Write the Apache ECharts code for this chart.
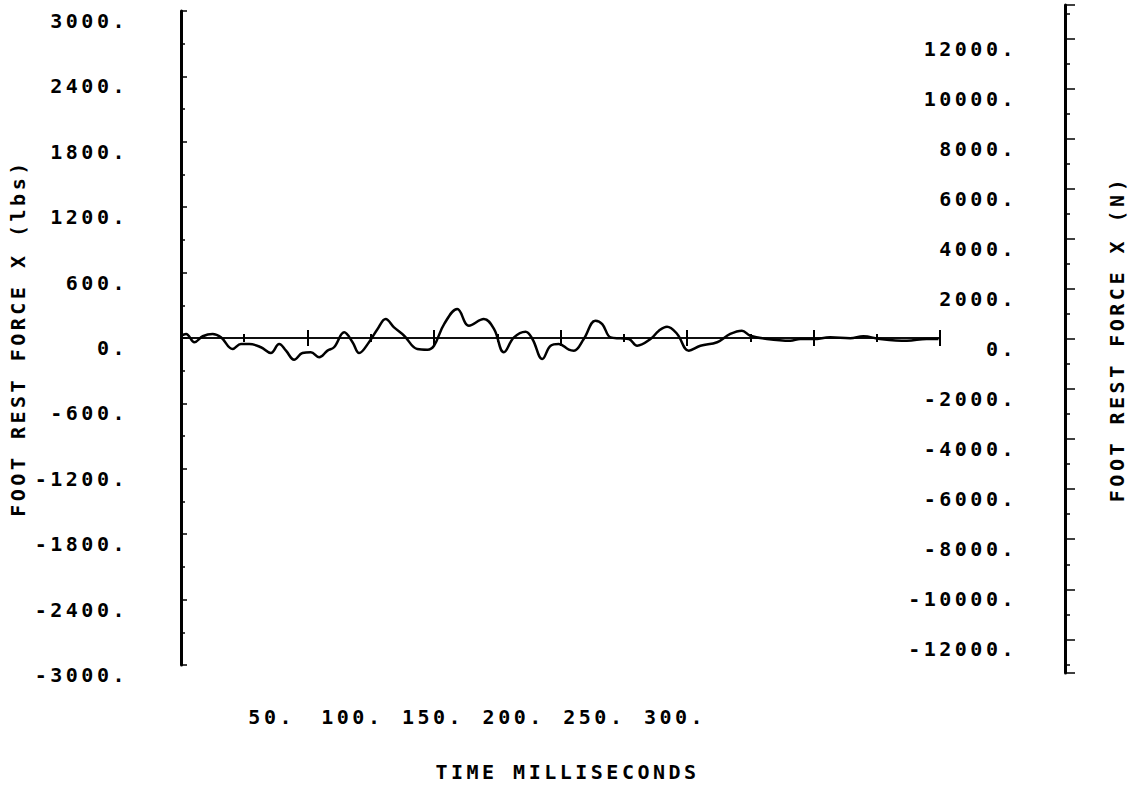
<!DOCTYPE html>
<html>
<head>
<meta charset="utf-8">
<script src="https://cdn.jsdelivr.net/npm/echarts@6.0.0/dist/echarts.min.js"></script>
<style>
html, body { margin: 0; padding: 0; background: #fff; }
#chart { width: 1135px; height: 785px; }
/* the old plotter font is wide, so spread the letters */
#chart svg text { letter-spacing: 3.5px; }
</style>
</head>
<body>
<div id="chart"></div>
<script>
// time (ms) and foot rest force X (lbs)
var timeMs = [0, 2, 5.3, 8.6, 12.5, 15.8, 20.4, 23.7, 27, 31.6, 35.5, 38.8, 41.5, 44.7, 48,
  51.3, 54.6, 57.9, 60.5, 64.5, 67.8, 70.4, 74.3, 77.7, 80.9, 84.2, 88.2, 93.4, 97.4, 100,
  104, 109.2, 113.8, 119.7, 123.7, 127.6, 131.6, 136.2, 138.9, 142.8, 146.1, 149.3, 153.3, 155.3, 159.2,
  163.8, 166.5, 169.8, 173.7, 177, 180.3, 185.6, 188.9, 192.1, 196.1, 200.7, 205.3, 211.9, 217.1, 221.7,
  225, 231.6, 240.8, 244.8, 250, 256.6, 264.5, 269.7, 276.3, 286.9, 294.7, 299.4];
var forceLbs = [21, 37, -39, 16, 37, 6, -101, -55, -55, -85, -138, -55, -116, -199, -138,
  -131, -177, -116, -85, 52, -39, -138, -39, 83, 174, 98, 21, -101, -107, -71,
  128, 266, 113, 174, 83, -131, 6, 58, -9, -193, -71, -55, -107, -116, -9,
  159, 128, 6, -3, -9, -71, -9, 67, 104, 37, -116, -71, -39, 37, 67,
  21, -9, -25, -9, -9, 6, -3, 16, -9, -25, -9, -9];

var xTickLabels = [50, 100, 150, 200, 250, 300];
var lbsRange = [-3000, 3000];
var lbsStep = 600;
var newtonStep = 2000;
var lbsToN = 4.448;

var font = 'DejaVu Sans Mono';
var txt = { fontFamily: font, fontWeight: 'bold', fontSize: 20, color: '#000' };

var data = timeMs.map(function (t, i) { return [t, forceLbs[i]]; });

var chart = echarts.init(document.getElementById('chart'), null, { renderer: 'svg' });
var option = {
  backgroundColor: '#fff',
  animation: false,
  title: {
    text: 'TIME MILLISECONDS',
    left: 'center',
    top: 762,
    padding: 0,
    textStyle: { fontFamily: font, fontWeight: 'bold', fontSize: 20, color: '#000' }
  },
  grid: [
    { left: 180, right: 195, top: 11, bottom: 120 },
    { left: 180, right: 65, top: 5, bottom: 112 },
    { left: 191, right: 460, top: 11, bottom: 120 }
  ],
  xAxis: [
    {
      gridIndex: 0, type: 'value', position: 'bottom', min: 0, max: 300, interval: 50,
      axisLine: { onZero: true, onZeroAxisIndex: 0, lineStyle: { color: '#000', width: 1.5 } },
      axisTick: { length: 8, lineStyle: { color: '#000', width: 2 } },
      minorTick: { show: true, splitNumber: 2, length: 4, lineStyle: { color: '#000', width: 2 } },
      axisLabel: { show: false }, splitLine: { show: false }
    },
    {
      gridIndex: 0, type: 'value', position: 'top', min: 0, max: 300, interval: 50,
      axisLine: { onZero: true, onZeroAxisIndex: 0, lineStyle: { color: '#000', width: 1.5 } },
      axisTick: { length: 8, lineStyle: { color: '#000', width: 2 } },
      minorTick: { show: true, splitNumber: 2, length: 4, lineStyle: { color: '#000', width: 2 } },
      axisLabel: { show: false }, splitLine: { show: false }
    },
    { gridIndex: 1, type: 'value', min: 0, max: 1, show: false },
    {
      gridIndex: 2, type: 'value', position: 'bottom', min: 0, max: 300, interval: 50,
      axisLine: { show: false, onZero: false }, axisTick: { show: false }, splitLine: { show: false },
      axisLabel: Object.assign({
        showMinLabel: false, margin: 42,
        formatter: function (v) { return xTickLabels.indexOf(v) >= 0 ? v + '.' : ''; }
      }, txt)
    }
  ],
  yAxis: [
    {
      gridIndex: 0, type: 'value', position: 'left', min: lbsRange[0], max: lbsRange[1], interval: lbsStep,
      name: 'FOOT REST FORCE X (lbs)', nameLocation: 'middle', nameGap: 153,
      nameTextStyle: txt,
      axisLine: { show: true, onZero: false, lineStyle: { color: '#000', width: 3 } },
      axisTick: { show: true, inside: true, length: 6, lineStyle: { color: '#000', width: 1.5 } },
      minorTick: { show: true, splitNumber: 2, length: 4, lineStyle: { color: '#000', width: 1.5 } },
      axisLabel: Object.assign({ margin: 53, verticalAlign: 'top', formatter: function (v) { return v + '.'; } }, txt),
      splitLine: { show: false }
    },
    {
      gridIndex: 1, type: 'value', position: 'right',
      min: lbsRange[0] * lbsToN, max: lbsRange[1] * lbsToN,
      minInterval: newtonStep, maxInterval: newtonStep,
      name: 'FOOT REST FORCE X (N)', nameLocation: 'middle', nameGap: 42,
      nameTextStyle: txt,
      axisLine: { show: true, onZero: false, lineStyle: { color: '#000', width: 3 } },
      axisTick: { show: true, length: 10, lineStyle: { color: '#000', width: 1.5 } },
      minorTick: { show: true, splitNumber: 2, length: 5, lineStyle: { color: '#000', width: 1.5 } },
      axisLabel: Object.assign({
        inside: true, margin: 48, verticalAlign: 'top', showMinLabel: false, showMaxLabel: false,
        formatter: function (v) { return v + '.'; }
      }, txt),
      splitLine: { show: false }
    },
    { gridIndex: 2, type: 'value', show: false }
  ],
  series: [{
    type: 'line',
    xAxisIndex: 0,
    yAxisIndex: 0,
    data: data,
    smooth: 0.4,
    symbol: 'none',
    lineStyle: { color: '#000', width: 2.5 }
  }]
};
chart.setOption(option);
window.onresize = chart.resize;
</script>
</body>
</html>
